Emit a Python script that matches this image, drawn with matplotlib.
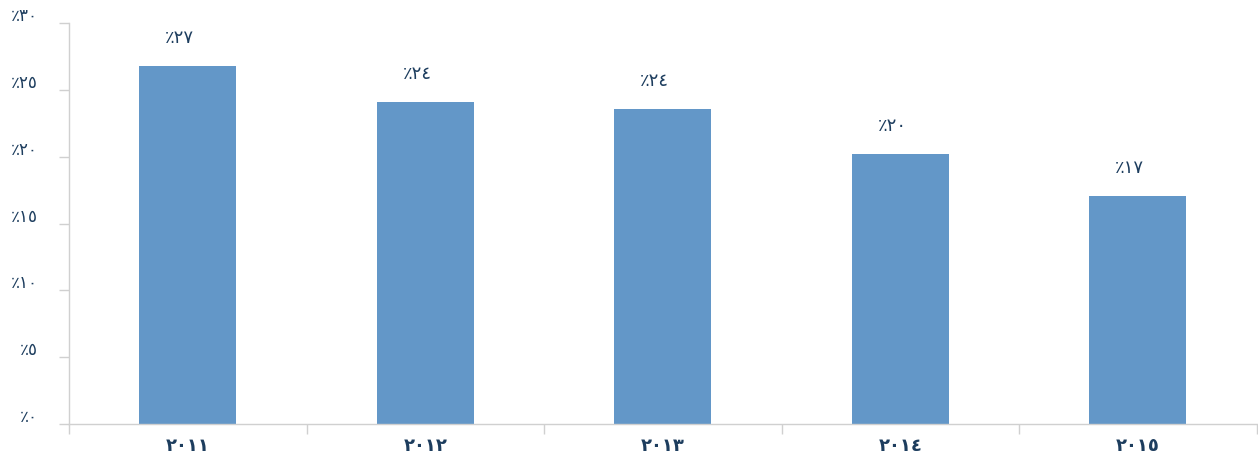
import matplotlib
matplotlib.use("Agg")
import matplotlib.pyplot as plt
import matplotlib.transforms as mtransforms

years = ["٢٠١١", "٢٠١٢", "٢٠١٣", "٢٠١٤", "٢٠١٥"]
values = [26.8, 24.1, 23.6, 20.2, 17.05]
value_labels = ["٪٢٧", "٪٢٤", "٪٢٤", "٪٢٠", "٪١٧"]
yticks = [0, 5, 10, 15, 20, 25, 30]
ytick_labels = ["٪٠", "٪٥", "٪١٠", "٪١٥", "٪٢٠", "٪٢٥", "٪٣٠"]

plt.rcParams['font.family'] = ['DejaVu Sans']
navy = "#1d3d5e"
gray = "#d0d0d0"

fig = plt.figure(figsize=(12.58, 4.59), dpi=100)
ax = fig.add_axes([69/1258, 1 - 424/459, (1256.5 - 69)/1258, (424 - 23)/459])

x = list(range(len(years)))
ax.bar(x, values, width=0.41, color="#6397c8", zorder=2)

ax.set_xlim(-0.5, len(years) - 0.5)
ax.set_ylim(0, 30)

for s in ["top", "right"]:
    ax.spines[s].set_visible(False)
for s in ["left", "bottom"]:
    ax.spines[s].set_color(gray)
    ax.spines[s].set_linewidth(1.0)

# y ticks
ax.set_yticks(yticks)
ax.set_yticklabels([])
ax.tick_params(axis="y", direction="out", length=7, color=gray, width=1)
offset = mtransforms.ScaledTranslation(-31/100, 7/100, fig.dpi_scale_trans)
for yv, lab in zip(yticks, ytick_labels):
    ax.text(0, yv, lab, transform=ax.get_yaxis_transform() + offset,
            ha="right", va="center", fontsize=12, color=navy)

# x ticks at boundaries
ax.set_xticks([i - 0.5 for i in range(len(years) + 1)])
ax.set_xticklabels([])
ax.tick_params(axis="x", direction="out", length=7, color=gray, width=1)
for i, lab in enumerate(years):
    ax.text(i, -0.055, lab, transform=ax.get_xaxis_transform(),
            ha="center", va="center", fontsize=13, fontweight="bold", color=navy)

# value labels
lab_off = mtransforms.ScaledTranslation(-8/100, 28/100, fig.dpi_scale_trans)
for i, (v, lab) in enumerate(zip(values, value_labels)):
    ax.text(i, v, lab, transform=ax.transData + lab_off,
            ha="center", va="center", fontsize=13, color=navy)

fig.savefig("out.png", dpi=100)
